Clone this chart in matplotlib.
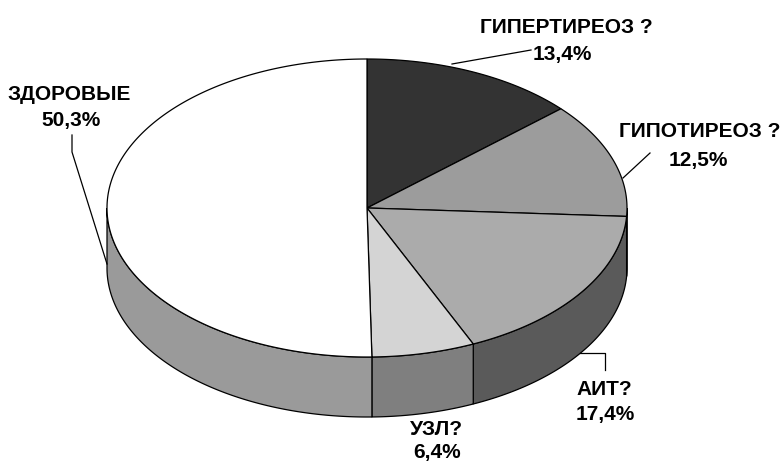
import numpy as np
import matplotlib
matplotlib.use('Agg')
import matplotlib.pyplot as plt
from matplotlib.patches import Polygon

# ---- data ----
labels = ['ГИПЕРТИРЕОЗ ?', 'ГИПОТИРЕОЗ ?', 'АИТ?', 'УЗЛ?', 'ЗДОРОВЫЕ']
values = [13.4, 12.5, 17.4, 6.4, 50.3]
pct_labels = ['13,4%', '12,5%', '17,4%', '6,4%', '50,3%']

top_colors = ['#333333', '#9c9c9c', '#ababab', '#d4d4d4', '#ffffff']
side_colors = ['#222222', '#4a4a4a', '#5a5a5a', '#7f7f7f', '#9a9a9a']

# ---- geometry (pixels) ----
cx, cy, a, b, depth = 367, 208, 260, 149, 60
W, H = 782, 462

fig = plt.figure(figsize=(W / 100, H / 100), dpi=100)
ax = fig.add_axes([0, 0, 1, 1])
ax.set_xlim(0, W)
ax.set_ylim(H, 0)
ax.axis('off')


def pt(theta_deg, dz=0.0):
    t = np.radians(theta_deg)
    return cx + a * np.sin(t), cy - b * np.cos(t) + dz


fracs = np.array(values) / np.sum(values)
bounds = np.concatenate([[0.0], np.cumsum(fracs)]) * 360.0

LW = 0.9
# side faces (front half only: 90..270 deg clockwise from top)
for i in range(len(values)):
    s, e = bounds[i], bounds[i + 1]
    lo, hi = max(s, 90.0), min(e, 270.0)
    if lo < hi:
        th = np.linspace(lo, hi, 200)
        xt, yt = pt(th)
        xb, yb = pt(th[::-1], depth)
        poly = np.column_stack([np.concatenate([xt, xb]), np.concatenate([yt, yb])])
        ax.add_patch(Polygon(poly, closed=True, facecolor=side_colors[i],
                             edgecolor='black', lw=LW, joinstyle='miter'))

# top faces
for i in range(len(values)):
    s, e = bounds[i], bounds[i + 1]
    th = np.linspace(s, e, 300)
    xt, yt = pt(th)
    poly = np.column_stack([np.concatenate([[cx], xt]), np.concatenate([[cy], yt])])
    ax.add_patch(Polygon(poly, closed=True, facecolor=top_colors[i],
                         edgecolor='black', lw=LW, joinstyle='miter'))

# leader lines
lk = dict(color='black', lw=0.9)
ax.plot([452, 531], [64, 50], **lk)
ax.plot([623, 650], [178, 153], **lk)
ax.plot([580, 605, 605], [353, 353, 370], **lk)
ax.plot([72, 72, 107], [135, 152, 264], **lk)

# labels
font = dict(family=['Liberation Sans', 'DejaVu Sans'], fontweight='bold',
            fontsize=15, color='black', ha='center', va='baseline')
name_pos = [(566, 33), (700, 137), (604, 395), (437, 435), (69, 100)]
pct_pos = [(562, 60), (698, 166), (605, 420), (437, 458), (71, 126)]
for i in range(len(values)):
    ax.text(*name_pos[i], labels[i], **font)
    ax.text(*pct_pos[i], pct_labels[i], **font)

fig.savefig('out.png', dpi=100, facecolor='white')
